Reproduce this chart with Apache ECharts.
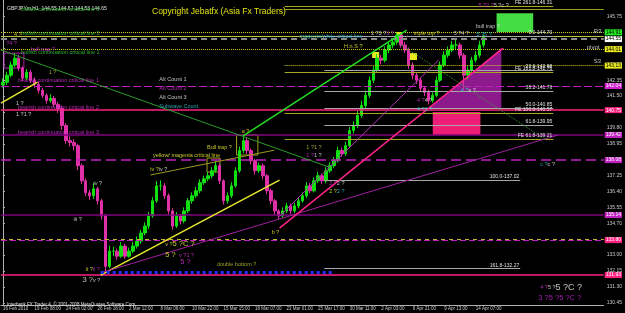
<!DOCTYPE html>
<html>
<head>
<meta charset="utf-8">
<script src="https://cdn.jsdelivr.net/npm/echarts@6/dist/echarts.min.js"></script>
<style>
html, body { margin: 0; background: #000; }
#chart { width: 625px; height: 313px; }
</style>
</head>
<body>
<div id="chart"></div>
<script>
// GBPJPY H1 chart, one candle per slot, 8 slots between time labels
const timeLabels = ['16 Feb 2010', '19 Feb 08:00', '24 Feb 02:00', '26 Feb 18:00', '2 Mar 12:00',
  '8 Mar 06:00', '10 Mar 22:00', '15 Mar 15:00', '18 Mar 07:00', '23 Mar 01:00', '25 Mar 17:00',
  '30 Mar 11:00', '2 Apr 03:00', '6 Apr 21:00', '9 Apr 13:00', '14 Apr 07:00']
const slotsPerLabel = 8
const slotCount = 153
const firstOpen = 142.10
const closes = [
  142.24, 142.62, 143.16, 143.53, 143.00, 142.46, 142.78, 142.35, 142.13, 141.81,
  141.54, 141.27, 141.38, 141.06, 140.84, 139.93, 139.12, 139.02, 138.85, 137.78,
  136.97, 136.33, 136.17, 136.54, 135.90, 135.09, 132.40, 133.21, 133.21, 132.94,
  133.48, 132.94, 133.21, 133.48, 133.75, 134.18, 134.55, 135.09, 135.90, 136.70,
  136.70, 136.17, 135.36, 134.55, 135.09, 134.82, 135.36, 135.90, 136.17, 136.44,
  136.87, 137.08, 137.24, 137.51, 137.78, 136.97, 135.90, 136.17, 136.70, 137.51,
  138.59, 139.12, 138.59, 138.05, 137.51, 137.78, 137.24, 136.44, 135.90, 135.36,
  135.09, 135.36, 135.63, 135.36, 135.63, 135.90, 136.17, 136.70, 136.44, 136.97,
  137.24, 136.97, 137.51, 137.78, 138.05, 138.59, 138.42, 138.85, 139.66, 139.93,
  140.47, 141.00, 141.54, 142.35, 142.89, 143.53, 143.42, 143.96, 144.23, 144.39,
  144.77, 144.23, 143.96, 143.16, 142.62, 142.35, 141.92, 141.70, 141.27, 141.54,
  142.35, 143.16, 143.69, 143.96, 144.23, 144.23, 143.69, 142.62, 142.89, 143.42,
  143.69, 144.23, 144.65
]
const lows = [
  141.95, 142.10, 142.50, 143.05, 142.85, 142.30, 142.35, 142.20, 141.95, 141.65,
  141.40, 141.10, 141.15, 140.90, 140.60, 139.70, 138.95, 138.80, 138.60, 137.55,
  136.80, 136.15, 135.95, 136.00, 135.70, 134.90, 132.02, 132.30, 132.95, 132.75,
  132.85, 132.80, 132.85, 133.10, 133.35, 133.60, 134.05, 134.40, 135.00, 135.80,
  136.45, 136.00, 135.20, 134.35, 134.45, 134.65, 134.70, 135.25, 135.75, 136.05,
  136.30, 136.75, 136.95, 137.10, 137.40, 136.80, 135.70, 135.75, 136.05, 136.60,
  137.40, 138.45, 138.40, 137.85, 137.30, 137.40, 137.05, 136.25, 135.70, 135.15,
  134.93, 135.00, 135.25, 135.20, 135.25, 135.50, 135.80, 136.05, 136.30, 136.35,
  136.85, 136.80, 136.85, 137.40, 137.65, 137.95, 138.25, 138.30, 138.75, 139.50,
  139.80, 140.35, 140.85, 141.40, 142.20, 142.75, 143.20, 143.30, 143.80, 144.05,
  144.25, 144.10, 143.80, 142.95, 142.40, 142.15, 141.75, 141.50, 141.05, 141.15,
  141.45, 142.25, 143.05, 143.55, 143.85, 144.00, 143.50, 141.85, 142.40, 142.75,
  143.30, 143.55, 144.10
]
const highs = [
  142.45, 142.80, 143.35, 143.80, 143.70, 143.10, 142.95, 142.90, 142.50, 142.25,
  141.95, 141.65, 141.60, 141.50, 141.20, 141.00, 140.05, 139.35, 139.20, 138.95,
  137.90, 137.10, 136.50, 136.85, 136.65, 136.00, 135.20, 133.50, 133.45, 133.35,
  133.70, 133.60, 133.40, 133.70, 134.00, 134.35, 134.75, 135.30, 136.10, 136.95,
  137.00, 136.85, 136.30, 135.50, 135.30, 135.20, 135.55, 136.05, 136.35, 136.65,
  137.05, 137.25, 137.45, 137.70, 138.05, 137.90, 137.05, 136.35, 136.90, 137.70,
  138.80, 139.33, 139.25, 138.70, 138.15, 137.95, 137.90, 137.35, 136.55, 136.00,
  135.45, 135.55, 135.80, 135.75, 135.80, 136.05, 136.35, 136.90, 136.85, 137.15,
  137.45, 137.35, 137.70, 137.95, 138.25, 138.80, 138.75, 139.05, 139.85, 140.15,
  140.70, 141.25, 141.80, 142.55, 143.10, 143.75, 143.70, 144.15, 144.45, 144.60,
  144.88, 144.85, 144.40, 144.10, 143.30, 142.75, 142.50, 142.05, 141.85, 141.70,
  142.55, 143.35, 143.90, 144.15, 144.45, 144.50, 144.35, 143.80, 143.10, 143.60,
  143.90, 144.45, 144.80
]
const priceTicks = [130.45, 131.30, 132.15, 133.00, 133.85, 134.70, 135.55, 136.40, 137.25, 138.10,
  138.95, 139.80, 140.65, 141.50, 142.35, 143.20, 144.05, 144.90, 145.75]

// horizontal objects: [from slot, price]
const levels = [
  [71.5, 146.15], [-0.5, 144.91], [-0.5, 144.70], [-0.5, 144.55], [-0.5, 144.01], [71.5, 143.13],
  [-0.5, 142.04], [-0.5, 140.75], [-0.5, 139.42], [-0.5, 138.08], [-0.5, 135.14], [-0.5, 133.83],
  [-0.5, 133.80], [-0.5, 131.93]
]
const levelStyles = [
  { c: '#a0a020', t: 'solid', w: 1 },
  { c: '#d0d020', t: 'dotted', w: 1, bg: '#22ee22', fg: '#000' },
  { c: '#c0c040', t: 'solid', w: 1 },
  { c: '#8a8a8a', t: [6, 4], w: 2, bg: '#ffffff', fg: '#000' },
  { c: '#d0d020', t: 'dotted', w: 1, bg: '#e8e820', fg: '#000' },
  { c: '#d0d020', t: 'dotted', w: 1, bg: '#e8e820', fg: '#000' },
  { c: '#c020c0', t: [8, 3], w: 1, bg: '#d020d0', fg: '#fff' },
  { c: '#ff2080', t: 'solid', w: 1.5, bg: '#ff2080', fg: '#fff' },
  { c: '#800080', t: 'solid', w: 1.5, bg: '#c020c0', fg: '#fff' },
  { c: '#c020c0', t: [10, 5], w: 1.5, bg: '#c020c0', fg: '#fff' },
  { c: '#800080', t: 'solid', w: 1.5, bg: '#c020c0', fg: '#fff' },
  { c: '#c0c020', t: [4, 4], w: 1 },
  { c: '#c020c0', t: [6, 3], w: 1, bg: '#ff2080', fg: '#fff' },
  { c: '#ff2080', t: 'solid', w: 1.5, bg: '#ff2080', fg: '#fff' }
]

// fibonacci retracement and expansion
const fibLevels = [[0.0, 144.70], [23.6, 142.88], [38.2, 141.76], [50.0, 140.85], [61.8, 139.95], [100.0, 137.02], [161.8, 132.27]]
const fibSpan = [81.6, 139.7, 131.3]
const feLevels = [[261.8, 146.31], [161.8, 142.76], [100.0, 140.57], [61.8, 139.21]]
const feSpan = [71.5, 139.7]

// trend lines: [[slot, price], [slot, price]]
const trendLines = [
  [[60.9, 139.36], [102.5, 145.03]],
  [[-0.5, 141.13], [8.8, 142.25]],
  [[24.8, 131.93], [70.2, 137.01]],
  [[-0.5, 143.96], [82.8, 137.70]],
  [[-0.5, 135.40], [45.5, 130.32]],
  [[25.5, 132.09], [140.9, 139.42]],
  [[70.2, 134.44], [127.0, 144.07]],
  [[37.4, 137.28], [68.9, 138.61]],
  [[99.2, 144.50], [137.9, 139.15]],
  [[70.2, 135.08], [110.6, 143.43]],
  [[24.8, 132.09], [83.6, 132.09]]
]
const trendStyles = [
  { c: '#22dd22', w: 1.5, t: 'solid' },
  { c: '#e6e62e', w: 1.5, t: 'solid' },
  { c: '#e6e62e', w: 1.5, t: 'solid' },
  { c: '#2a9a2a', w: 1, t: 'solid' },
  { c: '#a020a0', w: 1, t: 'solid' },
  { c: '#a020a0', w: 1, t: 'solid' },
  { c: '#ff2288', w: 1.5, t: 'solid' },
  { c: '#9a9a20', w: 1, t: 'solid' },
  { c: '#3a9a3a', w: 1, t: 'dotted' },
  { c: '#b030b0', w: 1, t: 'solid' },
  { c: '#2030ff', w: 3, t: 'dotted' }
]

// rectangles: [slot1, price1, slot2, price2]
const boxes = [
  [125.3, 145.93, 134.6, 144.93],
  [109.1, 140.65, 121.2, 139.42],
  [99.8, 144.93, 101.3, 144.66],
  [93.7, 143.86, 95.5, 143.54],
  [103.0, 143.80, 105.1, 143.43],
  [59.3, 139.42, 64.7, 138.35],
  [51.8, 138.19, 55.1, 137.44],
  [0.3, 143.80, 5.3, 143.00]
]
const boxStyles = [
  { fill: '#44dd44' }, { fill: '#ee1e78' }, { fill: '#e8e820' }, { fill: '#e8e820' }, { fill: '#e8e820' },
  { edge: '#a0a020' }, { edge: '#a0a020' }, { edge: '#aa22aa' }
]
const triangle = [[108.1, 140.81], [126.5, 144.07], [126.5, 140.81]]

// text objects: [slot, price, text]
const notes = [
  [4.6, 146.11, '{g|bullish continuation critical line 3}'],
  [4.6, 144.87, '{g|bullish continuation critical line 2}'],
  [4.6, 143.86, '{g|bullish continuation critical line 1}'],
  [3.8, 142.31, '{m|bearish continuation critical line 1}'],
  [3.8, 140.91, '{m|bearish continuation critical line 2}'],
  [3.8, 139.58, '{m|bearish continuation critical line 3}'],
  [39.7, 142.41, '{w|Alt Count 1}'],
  [39.7, 141.93, '{m|Alt Count 2}'],
  [39.7, 141.45, '{w|Alt Count 3}'],
  [39.7, 140.97, '{c|Subwave Count}'],
  [2.8, 144.77, '{y|4 ?}'],
  [0.8, 144.34, '{m|?4 ?}'],
  [7.1, 144.02, '{m|bull trap ?}'],
  [11.6, 142.79, '{o|1 ?}'],
  [3.3, 141.08, '{w|1 ?}'],
  [3.3, 140.54, '{w|1 ?1 ?}'],
  [23.0, 136.85, '{w|iv ?}'],
  [37.4, 137.60, '{y|iv ?}{w|iv ?}'],
  [17.9, 134.92, '{w|iii ?}'],
  [21.0, 132.25, '{y|ii ?}{m|ii ?}'],
  [20.2, 131.66, '{wb|3 ?}{w|v ?}'],
  [41.2, 133.59, '{y|v ?}{yb|5 ?C ?}'],
  [41.2, 133.00, '{yb|5 ?} {m|v ?1 ?}'],
  [45.0, 132.62, '{mb|5 ?}'],
  [54.3, 132.52, '{o|double bottom ?}'],
  [51.8, 138.77, '{y|Bull trap ?}'],
  [38.1, 138.35, '{y|yellow/ magenta critical line}'],
  [60.6, 139.63, '{y|a ?}'],
  [68.2, 134.23, '{y|b ?}'],
  [77.0, 138.77, '{o|1 ?1 ?}'],
  [77.0, 138.30, '{m|1 ?}{w|1 ?}'],
  [82.8, 136.85, '{m|2 ?}{w|2 ?}'],
  [82.8, 136.42, '{y|2 ?}{c|2 ?}'],
  [86.6, 144.13, '{y|H.n.S ?}'],
  [75.3, 144.71, '{c|magenta/white critical line}'],
  [93.4, 144.87, '{w|1 ?3 ?}{m|3 ?}'],
  [104.3, 144.87, '{y|triple top ?}'],
  [114.4, 144.87, '{w|5 ?4 ?}'],
  [120.2, 144.82, '{c|5 ?5 ?}'],
  [120.0, 145.25, '{w|bull trap ?}'],
  [120.7, 146.37, '{m|5 ?2 ?}{w|5 ?c ?}'],
  [105.1, 141.24, '{m|4 ?}{w|4 ?}'],
  [105.1, 140.76, '{c|4 ?2 ?}'],
  [116.2, 141.82, '{c|4 ?}{w|x ?}'],
  [136.4, 137.87, '{c|c ?}{w|c ?}'],
  [136.4, 131.28, '{m|4 ?}{w|5 ?}{wl|5 ?C ?}'],
  [135.9, 130.70, '{ml|3 ?5 ?5 ?C ?}'],
  [150.0, 144.98, '{r|R3}'],
  [148.2, 144.13, '{r|pivot}'],
  [150.0, 143.38, '{r|S3}']
]

const categories = []
for (let i = 0; i < slotCount; i++) {
  const k = i / slotsPerLabel
  categories.push(i % slotsPerLabel === 0 && k < timeLabels.length ? timeLabels[k] : '')
}
const candles = closes.map((c, i) => [i === 0 ? firstOpen : closes[i - 1], c, lows[i], highs[i]])
const lastSlot = slotCount - 0.5
const font = 'Liberation Sans, Arial, sans-serif'
const small = { fontSize: 5.5, fontFamily: font }
const rich = {
  g: Object.assign({ color: '#38dc38' }, small),
  m: Object.assign({ color: '#dc34dc' }, small),
  w: Object.assign({ color: '#e8e8e8' }, small),
  c: Object.assign({ color: '#34c8dc' }, small),
  y: Object.assign({ color: '#f0f034' }, small),
  o: Object.assign({ color: '#c0c034' }, small),
  yb: { color: '#f0f034', fontSize: 7.5, fontFamily: font },
  mb: { color: '#dc34dc', fontSize: 7.5, fontFamily: font },
  wb: { color: '#e8e8e8', fontSize: 7.5, fontFamily: font },
  wl: { color: '#f0f0f0', fontSize: 9, fontFamily: font },
  ml: { color: '#d020e0', fontSize: 7.5, fontFamily: font },
  r: { color: '#e8e8e8', fontSize: 6, fontFamily: font }
}

const levelLines = levels.map((lv, i) => {
  const s = levelStyles[i]
  return [{
    coord: [lv[0], lv[1]],
    lineStyle: { color: s.c, type: s.t, width: s.w },
    label: s.bg ? {
      show: true, position: 'end', distance: 1, formatter: lv[1].toFixed(2),
      backgroundColor: s.bg, color: s.fg, fontSize: 5, fontFamily: font, padding: [1, 1, 0, 1]
    } : { show: false }
  }, { coord: [lastSlot, lv[1]] }]
})
const fibLines = fibLevels.map((f, i) => [{
  coord: [fibSpan[0], f[1]],
  label: { show: true, position: 'insideEndTop', distance: 1, formatter: f[0].toFixed(1) + '-' + f[1].toFixed(2), color: '#e0e0e0', fontSize: 5, fontFamily: font }
}, { coord: [i < 5 ? fibSpan[1] : fibSpan[2], f[1]] }])
const feLines = feLevels.map(f => [{
  coord: [feSpan[0], f[1]],
  label: { show: true, position: 'insideEndTop', distance: 1, formatter: 'FE ' + f[0].toFixed(1) + '-' + f[1].toFixed(2), color: '#e0e0e0', fontSize: 5, fontFamily: font }
}, { coord: [feSpan[1], f[1]] }])

const chart = echarts.init(document.getElementById('chart'))
const option = {
  backgroundColor: '#000',
  animation: false,
  title: [
    { text: 'GBPJPYm,H1  144.55 144.67 144.53 144.65', left: 2, top: 1, textStyle: { color: '#e0e0e0', fontSize: 5, fontWeight: 'normal', fontFamily: font } },
    { text: 'Copyright Jebatfx (Asia Fx Traders)', left: 147, top: 2, textStyle: { color: '#e4e410', fontSize: 8.5, fontWeight: 'normal', fontFamily: font } },
    { text: 'Interbank FX Trader 4, © 2001-2008 MetaQuotes Software Corp.', left: 2, top: 297, textStyle: { color: '#e0e0e0', fontSize: 4.5, fontWeight: 'normal', fontFamily: font } }
  ],
  grid: { left: 0, right: 19, top: 0, bottom: 8 },
  xAxis: [{
    type: 'category',
    data: categories,
    axisLine: { lineStyle: { color: '#b0b0b0' } },
    axisTick: { alignWithLabel: true, length: 2, lineStyle: { color: '#b0b0b0' }, interval: (i) => categories[i] !== '' },
    axisLabel: { interval: 0, color: '#c8c8c8', fontSize: 4.5, fontFamily: font, align: 'left', margin: 1 },
    splitLine: { show: false }
  }, {
    type: 'value', min: -0.5, max: lastSlot, show: false
  }],
  yAxis: {
    type: 'value',
    position: 'right',
    min: 130.33,
    max: 146.64,
    axisLine: { show: true, lineStyle: { color: '#b0b0b0' } },
    axisTick: { show: true, length: 2, customValues: priceTicks, lineStyle: { color: '#b0b0b0' } },
    axisLabel: { customValues: priceTicks, formatter: v => v.toFixed(2), color: '#c8c8c8', fontSize: 5, fontFamily: font, margin: 3 },
    splitLine: { show: false }
  },
  series: [
    {
      type: 'custom', xAxisIndex: 1, silent: true, z: 1,
      renderItem: (params, api) => ({
        type: 'polygon',
        shape: { points: triangle.map(p => api.coord(p)) },
        style: { fill: '#8c1a8c' }
      }),
      data: [0]
    },
    {
      type: 'line', xAxisIndex: 1, silent: true, data: [], z: 1,
      markArea: {
        silent: true,
        data: boxes.map((b, i) => [{
          coord: [b[0], b[1]],
          itemStyle: boxStyles[i].fill
            ? { color: boxStyles[i].fill, opacity: 1 }
            : { color: 'rgba(0,0,0,0)', borderColor: boxStyles[i].edge, borderWidth: 1 }
        }, { coord: [b[2], b[3]] }])
      }
    },
    {
      type: 'candlestick', data: candles, barWidth: 3, z: 3,
      itemStyle: { color: '#10e010', color0: '#e030a8', borderColor: '#10e010', borderColor0: '#e030a8', borderWidth: 1 }
    },
    {
      type: 'line', xAxisIndex: 1, silent: true, data: [], z: 4,
      markLine: { silent: true, symbol: ['none', 'none'], animation: false, data: levelLines }
    },
    {
      type: 'line', xAxisIndex: 1, silent: true, data: [], z: 4,
      markLine: { silent: true, symbol: ['none', 'none'], lineStyle: { color: '#a8a8a8', type: 'solid', width: 1 }, data: fibLines }
    },
    {
      type: 'line', xAxisIndex: 1, silent: true, data: [], z: 4,
      markLine: { silent: true, symbol: ['none', 'none'], lineStyle: { color: '#a8a820', type: 'solid', width: 1 }, data: feLines }
    },
    {
      type: 'line', xAxisIndex: 1, silent: true, data: [], z: 5,
      markLine: {
        silent: true, symbol: ['none', 'none'], label: { show: false },
        data: trendLines.map((t, i) => [
          { coord: t[0], lineStyle: { color: trendStyles[i].c, width: trendStyles[i].w, type: trendStyles[i].t } },
          { coord: t[1] }
        ])
      }
    },
    {
      type: 'scatter', xAxisIndex: 1, silent: true, symbolSize: 0, z: 6,
      data: notes.map(n => ({ value: [n[0], n[1]], label: { formatter: n[2] } })),
      label: { show: true, position: 'right', distance: 0, rich: rich }
    }
  ]
}
chart.setOption(option)
</script>
</body>
</html>
